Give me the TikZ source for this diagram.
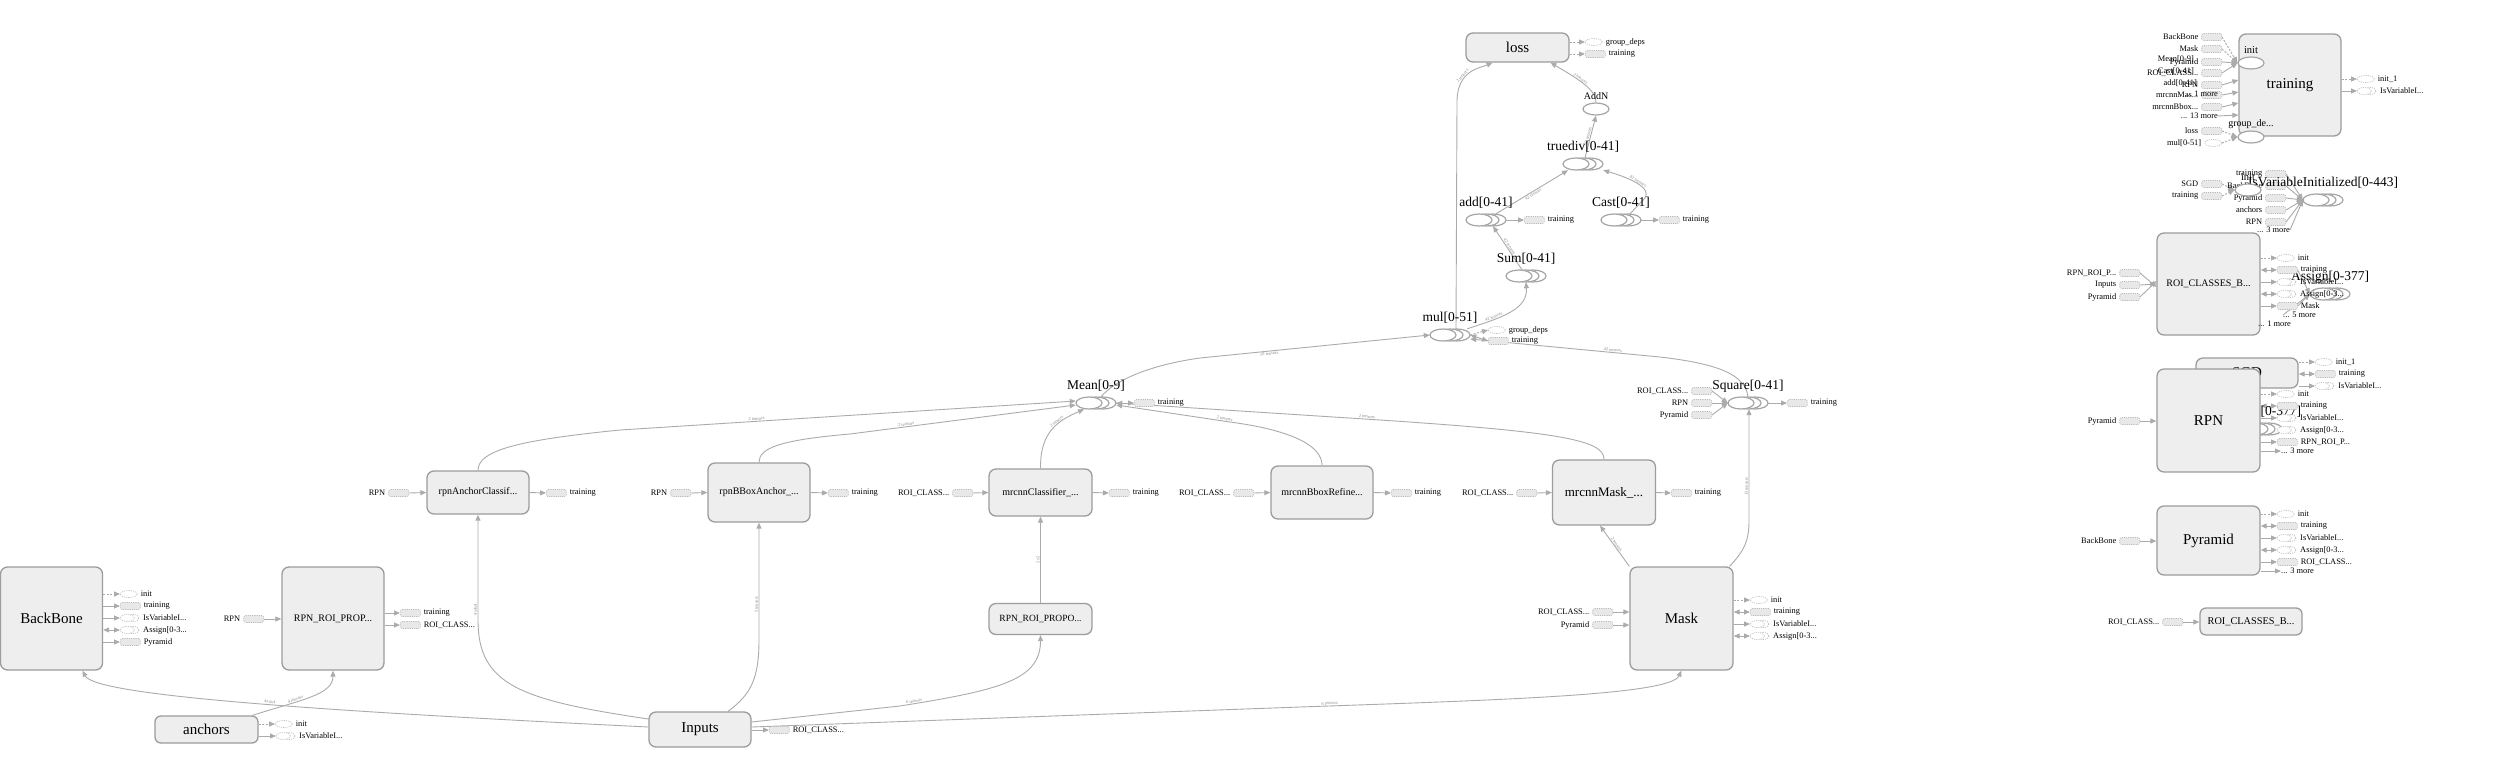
\documentclass[tikz,border=0pt]{standalone}
\usepackage{fontspec}
\setmainfont{Liberation Serif}
\usetikzlibrary{shapes.geometric,arrows.meta}
\definecolor{boxfill}{HTML}{EEEEEE}
\definecolor{boxdraw}{HTML}{9C9C9C}
\definecolor{edgec}{HTML}{ABABAB}
\definecolor{stubfill}{HTML}{E8E8E8}
\definecolor{stubdraw}{HTML}{BBBBBB}
\definecolor{opdraw}{HTML}{A5A5A5}
\definecolor{edlc}{HTML}{8A8A8A}
\pgfdeclarelayer{back}
\pgfdeclarelayer{bg}
\pgfsetlayers{back,bg,main}
\newcommand\fsz[1]{\fontsize{#1}{#1}\selectfont}
\tikzset{
 grp/.style={draw=boxdraw, fill=boxfill, line width=1.3pt, rounded corners=7pt, inner sep=0pt, align=center},
 stubbox/.style={rectangle, draw=stubdraw, fill=stubfill, dash pattern=on 1.2pt off 1pt, line width=0.6pt, minimum width=20pt, minimum height=7pt, inner sep=0pt, rounded corners=1.5pt},
 stubell/.style={ellipse, draw=stubdraw, fill=white, dash pattern=on 1.2pt off 1pt, line width=0.6pt, minimum width=17pt, minimum height=7pt, inner sep=0pt},
 lbl/.style={font=\fsz{8.4}, inner sep=0pt},
 ed/.style={draw=edgec, line width=0.9pt, -{Triangle[width=5pt,length=6pt]}},
 eds/.style={ed, dash pattern=on 2pt off 1.5pt},
 edb/.style={draw=edgec, line width=0.9pt, {Triangle[width=5pt,length=6pt]}-{Triangle[width=5pt,length=6pt]}},
 edbs/.style={edb, dash pattern=on 2pt off 1.5pt},
 edl/.style={font=\fsz{4.5}, text=edlc, sloped, inner sep=0.6pt},
 opl/.style={draw=opdraw, fill=white, line width=1.2pt},
 oplbl/.style={font=\fsz{13.5}, inner sep=0pt},
}
% op stack: name, x, y, label
\newcommand\opstack[4]{%
 \draw[opl] (#2+7,#3) ellipse [x radius=13pt, y radius=6pt];
 \draw[opl] (#2,#3) ellipse [x radius=13pt, y radius=6pt];
 \draw[opl] (#2-7,#3) ellipse [x radius=13pt, y radius=6pt];
 \node[minimum width=40pt, minimum height=12pt, inner sep=0pt] (#1) at (#2,#3) {};
 \node[oplbl] (#1-l) at (#2,#3-17) {#4};}
% single op: name, x, y, label, size
\newcommand\opone[5]{%
 \node[ellipse, opl, minimum width=26pt, minimum height=12pt, inner sep=0pt] (#1) at (#2,#3) {};
 \node[font=\fsz{#5}, inner sep=0pt] (#1-l) at (#2,#3-12.5) {#4};}
% output stub: style, name, x(left), y, text
\newcommand\outR[5]{%
 \node[#1, anchor=west] (#2) at (#3,#4) {};
 \node[lbl, anchor=west] (#2-t) at ([xshift=3pt]#2.east) {#5};}
% input stub: style, name, x(right), y, text
\newcommand\inL[5]{%
 \node[#1, anchor=east] (#2) at (#3,#4) {};
 \node[lbl, anchor=east] (#2-t) at ([xshift=-3pt]#2.west) {#5};}
% variable stub: name, x(left), y, text
\newcommand\outV[4]{%
 \draw[draw=stubdraw, dash pattern=on 1.2pt off 1pt, line width=0.6pt] (#2+13,#3) ellipse [x radius=6pt, y radius=3.5pt];
 \node[stubell, minimum width=14pt, anchor=west] (#1) at (#2,#3) {};
 \node[lbl, anchor=west] (#1-t) at (#2+23,#3) {#4};}
\begin{document}
\begin{tikzpicture}[x=1pt,y=-1pt]
\begin{pgfonlayer}{back}
\fill[white] (0,0) rectangle (2500,782);
\end{pgfonlayer}
\useasboundingbox (0,0) rectangle (2500,782);

% ================= LEFT / MAIN GRAPH =================
\node[grp, minimum width=102pt, minimum height=103pt, font=\fsz{15}] (bb) at (51.5,618.5) {BackBone};
\outR{stubell}{bbo1}{120}{594}{init}
\outR{stubbox}{bbo2}{120}{606}{training}
\outV{bbo3}{120}{618}{IsVariableI...}
\outV{bbo4}{120}{630}{Assign[0-3...}
\outR{stubbox}{bbo5}{120}{642}{Pyramid}

\node[grp, minimum width=102pt, minimum height=103pt, font=\fsz{10}] (rrp) at (333,618.5) {RPN\_ROI\_PROP...};
\inL{stubbox}{rrpi}{264}{619}{RPN}
\outR{stubbox}{rrpo1}{400}{613}{training}
\outR{stubbox}{rrpo2}{400}{625}{ROI\_CLASS...}

\node[grp, minimum width=103pt, minimum height=27pt, font=\fsz{15}, rounded corners=6pt] (anc) at (206.5,729.5) {anchors};
\outR{stubell}{anco1}{275}{724}{init}
\outV{anco2}{276}{736}{IsVariableI...}

\node[grp, minimum width=102pt, minimum height=35pt, font=\fsz{15}] (inp) at (700,729.5) {Inputs};
\outR{stubbox}{inpo}{769}{730}{ROI\_CLASS...}

\node[grp, minimum width=102pt, minimum height=43pt, font=\fsz{10}] (rac) at (478,492.5) {rpnAnchorClassif...};
\inL{stubbox}{raci}{409}{493}{RPN}
\outR{stubbox}{raco}{546}{493}{training}

\node[grp, minimum width=102pt, minimum height=59pt, font=\fsz{10}] (rbb) at (759,492.5) {rpnBBoxAnchor\_...};
\inL{stubbox}{rbbi}{691}{493}{RPN}
\outR{stubbox}{rbbo}{828}{493}{training}

\node[grp, minimum width=103pt, minimum height=47pt, font=\fsz{10}] (mcl) at (1040.5,492.5) {mrcnnClassifier\_...};
\inL{stubbox}{mcli}{973}{493}{ROI\_CLASS...}
\outR{stubbox}{mclo}{1109}{493}{training}

\node[grp, minimum width=103pt, minimum height=31pt, font=\fsz{9.5}] (rrp2) at (1040.5,619) {RPN\_ROI\_PROPO...};

\node[grp, minimum width=102pt, minimum height=53pt, font=\fsz{10}] (mbr) at (1322,492.5) {mrcnnBboxRefine...};
\inL{stubbox}{mbri}{1254}{493}{ROI\_CLASS...}
\outR{stubbox}{mbro}{1391}{493}{training}

\node[grp, minimum width=103pt, minimum height=65pt, font=\fsz{13}] (mmk) at (1604,492.5) {mrcnnMask\_...};
\inL{stubbox}{mmki}{1537}{493}{ROI\_CLASS...}
\outR{stubbox}{mmko}{1671}{493}{training}

\node[grp, minimum width=103pt, minimum height=103pt, font=\fsz{15}] (msk) at (1681.5,618.5) {Mask};
\inL{stubbox}{mski1}{1613}{612}{ROI\_CLASS...}
\inL{stubbox}{mski2}{1613}{625}{Pyramid}
\outR{stubell}{msko1}{1750}{600}{init}
\outR{stubbox}{msko2}{1750}{612}{training}
\outV{msko3}{1750}{624}{IsVariableI...}
\outV{msko4}{1750}{636}{Assign[0-3...}

% ops
\opstack{mean}{1096}{403}{Mean[0-9]}
\outR{stubbox}{meano}{1134}{403}{training}
\opstack{sq}{1748}{403}{Square[0-41]}
\inL{stubbox}{sqi1}{1712}{391}{ROI\_CLASS...}
\inL{stubbox}{sqi2}{1712}{403}{RPN}
\inL{stubbox}{sqi3}{1712}{415}{Pyramid}
\outR{stubbox}{sqo}{1787}{403}{training}
\opstack{mul}{1450}{335}{mul[0-51]}
\outR{stubell}{mulo1}{1488}{330}{group\_deps}
\outR{stubbox}{mulo2}{1488}{341}{training}
\opstack{sum}{1526}{276}{Sum[0-41]}
\opstack{add}{1486}{220}{add[0-41]}
\outR{stubbox}{addo}{1524}{220}{training}
\opstack{cast}{1621}{220}{Cast[0-41]}
\outR{stubbox}{casto}{1659}{220}{training}
\opstack{tdv}{1583}{164}{truediv[0-41]}
\opone{addn}{1596}{109}{AddN}{10}

\node[grp, minimum width=103pt, minimum height=29pt, font=\fsz{15}] (loss) at (1517.5,47.5) {loss};
\outR{stubell}{losso1}{1585}{42}{group\_deps}
\outR{stubbox}{losso2}{1585}{54}{training}

% ================= RIGHT: auxiliary nodes =================
\node[grp, minimum width=102pt, minimum height=102pt, font=\fsz{15}] (trn) at (2290,85) {training};
\opone{tinit}{2251}{63}{init}{10.5}
\opone{tgrp}{2251}{137}{group\_de...}{10}
\inL{stubbox}{ti1}{2222}{37}{BackBone}
\inL{stubbox}{ti2}{2222}{49}{Mask}
\inL{stubbox}{ti3}{2222}{62}{Pyramid}
\inL{stubbox}{ti4}{2222}{73}{ROI\_CLASS...}
\inL{stubbox}{ti5}{2222}{85}{RPN}
\inL{stubbox}{ti6}{2222}{95}{mrcnnMas...}
\inL{stubbox}{ti7}{2222}{107}{mrcnnBbox...}
\node[lbl, anchor=east] (tmore) at (2218,116) {... 13 more};
\inL{stubbox}{tl1}{2222}{131}{loss}
\inL{stubell}{tl2}{2222}{143}{mul[0-51]}
\node[lbl, anchor=east] (tx1) at (2194,59) {Mean[0-9]};
\node[lbl, anchor=east] (tx2) at (2194,71) {Cast[0-41]};
\node[lbl, anchor=east] (tx3) at (2197,83) {add[0-41]};
\node[lbl, anchor=east] (tx4) at (2218,94) {... 1 more};
\outR{stubell}{tro1}{2357}{79}{init\_1}
\outV{tro2}{2357}{91}{IsVariableI...}

% IsVariableInitialized group
\inL{stubbox}{iv1}{2286}{174}{training}
\inL{stubbox}{iv2}{2286}{186}{BackBone}
\inL{stubbox}{iv3}{2286}{198}{Pyramid}
\inL{stubbox}{iv4}{2286}{210}{anchors}
\inL{stubbox}{iv5}{2286}{222}{RPN}
\node[lbl, anchor=east] (ivmore) at (2290,230) {... 3 more};
\opstack{ivi}{2323}{200}{IsVariableInitialized[0-443]}
\opone{sinit}{2248}{190}{init}{10.5}
\inL{stubbox}{sgi1}{2222}{184}{SGD}
\inL{stubbox}{sgi2}{2222}{196}{training}

% ROI_CLASSES_B (big)
\node[grp, minimum width=103pt, minimum height=102pt, font=\fsz{10}] (rcb) at (2208.5,284) {ROI\_CLASSES\_B...};
\inL{stubbox}{rcbi1}{2140}{273}{RPN\_ROI\_P...}
\inL{stubbox}{rcbi2}{2140}{285}{Inputs}
\inL{stubbox}{rcbi3}{2140}{297}{Pyramid}
\opstack{asg}{2330}{294}{Assign[0-377]}
\outR{stubell}{rcbo1}{2277}{258}{init}
\outR{stubbox}{rcbo2}{2277}{270}{training}
\outV{rcbo3}{2277}{282}{IsVariableI...}
\outV{rcbo4}{2277}{294}{Assign[0-3...}
\outR{stubbox}{rcbo5}{2277}{306}{Mask}
\node[lbl, anchor=west] (rcbmore) at (2283,315) {... 5 more};
\node[lbl, anchor=east] (asgmore) at (2291,324) {... 1 more};

% SGD (behind RPN)
\node[grp, minimum width=102pt, minimum height=30pt, font=\fsz{15}] (sgd) at (2247,373) {SGD};
\outR{stubell}{sgdo1}{2315}{362}{init\_1}
\outR{stubbox}{sgdo2}{2315}{374}{training}
\outV{sgdo3}{2315}{386}{IsVariableI...}
\opstack{asg2}{2262}{429}{Assign[0-377]}

% RPN
\node[grp, minimum width=103pt, minimum height=103pt, font=\fsz{15}] (rpn) at (2208.5,420.5) {RPN};
\inL{stubbox}{rpni}{2140}{421}{Pyramid}
\outR{stubell}{rpno1}{2277}{394}{init}
\outR{stubbox}{rpno2}{2277}{406}{training}
\outV{rpno3}{2277}{418}{IsVariableI...}
\outV{rpno4}{2277}{430}{Assign[0-3...}
\outR{stubbox}{rpno5}{2277}{442}{RPN\_ROI\_P...}
\node[lbl, anchor=west] (rpnmore) at (2281,451) {... 3 more};

% Pyramid
\node[grp, minimum width=103pt, minimum height=69pt, font=\fsz{15}] (pyr) at (2208.5,540.5) {Pyramid};
\inL{stubbox}{pyri}{2140}{541}{BackBone}
\outR{stubell}{pyro1}{2277}{514}{init}
\outR{stubbox}{pyro2}{2277}{526}{training}
\outV{pyro3}{2277}{538}{IsVariableI...}
\outV{pyro4}{2277}{550}{Assign[0-3...}
\outR{stubbox}{pyro5}{2277}{562}{ROI\_CLASS...}
\node[lbl, anchor=west] (pyrmore) at (2281,571) {... 3 more};

% ROI_CLASSES_B (small)
\node[grp, minimum width=102pt, minimum height=27pt, font=\fsz{10.3}, rounded corners=6pt] (rcb2) at (2251,621.5) {ROI\_CLASSES\_B...};
\inL{stubbox}{rcb2i}{2183}{622}{ROI\_CLASS...}

% ================= EDGES =================
\begin{pgfonlayer}{bg}
% stub edges, left
\draw[eds] (bb.east |- bbo1) -- (bbo1.west);
\draw[ed] (bb.east |- bbo2) -- (bbo2.west);
\draw[ed] (bb.east |- bbo3) -- (bbo3.west);
\draw[edb] (bb.east |- bbo4) -- (bbo4.west);
\draw[ed] (bb.east |- bbo5) -- (bbo5.west);
\draw[ed] (rrpi.east) -- (rrp.west |- rrpi);
\draw[ed] (rrp.east |- rrpo1) -- (rrpo1.west);
\draw[ed] (rrp.east |- rrpo2) -- (rrpo2.west);
\draw[eds] (anc.east |- anco1) -- (anco1.west);
\draw[ed] (anc.east |- anco2) -- (anco2.west);
\draw[ed] (inp.east |- inpo) -- (inpo.west);
\draw[ed] (raci.east) -- (rac.west);
\draw[ed] (rac.east) -- (raco.west);
\draw[ed] (rbbi.east) -- (rbb.west);
\draw[ed] (rbb.east) -- (rbbo.west);
\draw[ed] (mcli.east) -- (mcl.west);
\draw[ed] (mcl.east) -- (mclo.west);
\draw[ed] (mbri.east) -- (mbr.west);
\draw[ed] (mbr.east) -- (mbro.west);
\draw[ed] (mmki.east) -- (mmk.west);
\draw[ed] (mmk.east) -- (mmko.west);
\draw[ed] (mski1.east) -- (msk.west |- mski1);
\draw[ed] (mski2.east) -- (msk.west |- mski2);
\draw[eds] (msk.east |- msko1) -- (msko1.west);
\draw[edb] (msk.east |- msko2) -- (msko2.west);
\draw[ed] (msk.east |- msko3) -- (msko3.west);
\draw[edb] (msk.east |- msko4) -- (msko4.west);
\draw[ed] (mean.east) -- (meano.west);
\draw[ed] (sqi1.east) -- (sq.west);
\draw[ed] (sqi2.east) -- (sq.west);
\draw[ed] (sqi3.east) -- (sq.west);
\draw[ed] (sq.east) -- (sqo.west);
\draw[eds] (mul.east) -- (mulo1.west);
\draw[edb] (mul.east) -- (mulo2.west);
\draw[ed] (add.east) -- (addo.west);
\draw[ed] (cast.east) -- (casto.west);
\draw[eds] (loss.east |- losso1) -- (losso1.west);
\draw[eds] (loss.east |- losso2) -- (losso2.west);

% main data-flow edges
\draw[ed] ([yshift=2.5pt]inp.west) .. controls (300,710) and (95,695) .. ([xshift=31pt]bb.south)
  node[edl, pos=0.45, above] {4x4x4};
\draw[ed] ([xshift=46pt]anc.north) .. controls (300,700) and (333,695) .. (rrp.south)
  node[edl, pos=0.35, above] {4 tensors};
\draw[ed] ([yshift=10.5pt]inp.west) .. controls (520,700) and (478,685) .. (478,620) -- (rac.south)
  node[edl, pos=0.1, above] {4x4x4};
\draw[ed] ([xshift=28pt]inp.north) .. controls (750,695) and (759,680) .. (759,640) -- (rbb.south)
  node[edl, pos=0.3, above] {5 tensors};
\draw[ed] ([yshift=7.5pt]inp.east) -- (900,706) .. controls (1000,690) and (1040.5,680) .. (rrp2.south)
  node[edl, pos=0.05, above] {6 tensors};
\draw[ed] ([yshift=2.5pt]inp.east) -- (1300,707) .. controls (1500,700) and (1670,695) .. (msk.south)
  node[edl, pos=0.05, above] {6 tensors};
\draw[ed] (rrp2.north) -- (mcl.south) node[edl, pos=0.5, above] {2x2};
\draw[ed] (rac.north) .. controls (478,450) and (520,440) .. (620,430) -- ([yshift=2pt]mean.west)
  node[edl, pos=0.3, above] {2 tensors};
\draw[ed] (rbb.north) .. controls (759,448) and (780,440) .. (850,434) -- ([yshift=-2pt]mean.west)
  node[edl, pos=0.25, above] {2 tensors};
\draw[ed] (mcl.north) .. controls (1040,430) and (1060,420) .. ([xshift=-12pt]mean.south)
  node[edl, pos=0.6, above] {2 tensors};
\draw[ed] (mbr.north) .. controls (1322,445) and (1290,430) .. (1230,422) -- ([yshift=-2pt]mean.east)
  node[edl, pos=0.05, above] {2 tensors};
\draw[ed] (mmk.north) .. controls (1604,440) and (1560,432) .. (1380,420) -- (mean.east)
  node[edl, pos=0.05, above] {2 tensors};
\draw[ed] ([xshift=5pt]mean.north) .. controls (1115,380) and (1150,365) .. (1200,358) -- (mul.west)
  node[edl, pos=0.3, below] {10 tensors};
\draw[ed] (sq.north) .. controls (1745,375) and (1720,364) .. (1660,357) -- ([yshift=-4pt]mul.east)
  node[edl, pos=0.25, above] {42 tensors};
\draw[ed] ([xshift=6pt]mul.north) -- (1457,100) .. controls (1458,70) and (1480,68) .. ([xshift=-25pt]loss.south)
  node[edl, pos=0.35, above] {2 tensors};
\draw[ed] ([xshift=-3pt]mul.north east) .. controls (1500,318) and (1528,310) .. (sum.south)
  node[edl, pos=0.3, above] {42 tensors};
\draw[ed] ([xshift=-4pt]sum.north) -- ([xshift=7pt]add.south) node[edl, pos=0.5, above] {42 tensors};
\draw[ed] ([xshift=10pt]add.north) -- ([xshift=-15pt]tdv.south) node[edl, pos=0.5, below] {42 tensors};
\draw[ed] ([xshift=9pt]cast.north) -- (1645,198) .. controls (1652,188) and (1630,178) .. (tdv.south east)
  node[edl, pos=0.5, above] {42 tensors};
\draw[ed] ([xshift=2pt]tdv.north) -- (addn.south) node[edl, pos=0.5, above] {42 tensors};
\draw[ed] (addn.north) .. controls (1596,90) and (1580,80) .. ([xshift=33pt]loss.south)
  node[edl, pos=0.6, above] {2 tensors};
\draw[ed] ([xshift=48pt]msk.north) .. controls (1745,550) and (1749,540) .. (1749,520) -- ([xshift=1pt]sq.south)
  node[edl, pos=0.3, above] {15 tensors};
\draw[ed] (msk.north west) -- ([xshift=-4pt]mmk.south) node[edl, pos=0.5, above] {2 tensors};

% right side edges
\draw[eds] (ti1.east) -- (tinit.west);
\draw[eds] (ti2.east) -- (tinit.west);
\draw[ed] (ti3.east) -- (tinit.west);
\draw[ed] (ti4.east) -- (tinit.west);
\draw[ed] (ti5.east) -- ([yshift=5pt]trn.west);
\draw[ed] (ti6.east) -- ([yshift=-7pt]trn.west);
\draw[ed] (ti7.east) -- ([yshift=-18pt]trn.west);
\draw[ed] (tmore.east) -- ([yshift=-30pt]trn.west);
\draw[eds] (tl1.east) -- (tgrp.west);
\draw[eds] (tl2.east) -- (tgrp.west);
\draw[eds] (trn.east |- tro1) -- (tro1.west);
\draw[ed] (trn.east |- tro2) -- (tro2.west);
\draw[ed] (iv1.east) -- (ivi.west);
\draw[ed] (iv2.east) -- (ivi.west);
\draw[ed] (iv3.east) -- (ivi.west);
\draw[ed] (iv4.east) -- (ivi.west);
\draw[ed] (iv5.east) -- (ivi.west);
\draw[ed] (ivmore.east) -- (ivi.west);
\draw[eds] (sgi1.east) -- (sinit.west);
\draw[eds] (sgi2.east) -- (sinit.west);
\draw[ed] (rcbi1.east) -- ([yshift=-3pt]rcb.west);
\draw[ed] (rcbi2.east) -- (rcb.west);
\draw[ed] (rcbi3.east) -- ([yshift=3pt]rcb.west);
\draw[eds] (rcb.east |- rcbo1) -- (rcbo1.west);
\draw[edb] (rcb.east |- rcbo2) -- (rcbo2.west);
\draw[ed] (rcb.east |- rcbo3) -- (rcbo3.west);
\draw[edb] (rcb.east |- rcbo4) -- (rcbo4.west);
\draw[ed] (rcb.east |- rcbo5) -- (rcbo5.west);
\draw[ed] (rcb.east |- asgmore) -- ([xshift=-30pt]asgmore.west);
\draw[ed] (rcbo2.east) -- (asg.west);
\draw[ed] (rcbo5.east) -- (asg.west);
\draw[ed] (rcbmore.west) -- (asg.west);
\draw[eds] (sgd.east |- sgdo1) -- (sgdo1.west);
\draw[edb] (sgd.east |- sgdo2) -- (sgdo2.west);
\draw[ed] (sgd.east |- sgdo3) -- (sgdo3.west);
\draw[ed] (rpni.east) -- (rpn.west |- rpni);
\draw[eds] (rpn.east |- rpno1) -- (rpno1.west);
\draw[edb] (rpn.east |- rpno2) -- (rpno2.west);
\draw[ed] (rpn.east |- rpno3) -- (rpno3.west);
\draw[edb] (rpn.east |- rpno4) -- (rpno4.west);
\draw[ed] (rpn.east |- rpno5) -- (rpno5.west);
\draw[ed] (rpn.east |- rpnmore) -- (rpnmore.west);
\draw[ed] (pyri.east) -- (pyr.west |- pyri);
\draw[eds] (pyr.east |- pyro1) -- (pyro1.west);
\draw[edb] (pyr.east |- pyro2) -- (pyro2.west);
\draw[ed] (pyr.east |- pyro3) -- (pyro3.west);
\draw[edb] (pyr.east |- pyro4) -- (pyro4.west);
\draw[ed] (pyr.east |- pyro5) -- (pyro5.west);
\draw[ed] (pyr.east |- pyrmore) -- (pyrmore.west);
\draw[ed] (rcb2i.east) -- (rcb2.west |- rcb2i);
\end{pgfonlayer}
\end{tikzpicture}
\end{document}
